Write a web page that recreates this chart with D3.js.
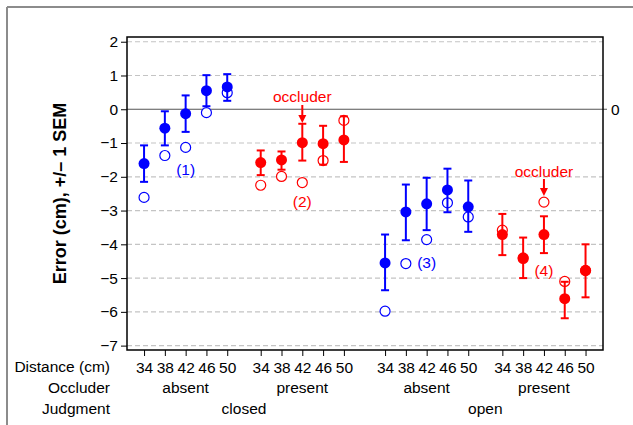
<!DOCTYPE html>
<html>
<head>
<meta charset="utf-8">
<script src="https://cdn.jsdelivr.net/npm/d3@7"></script>
<style>
  html, body { margin: 0; padding: 0; background: #fff; }
  svg { display: block; }
  text { font-family: "Liberation Sans", Arial, sans-serif; }
</style>
</head>
<body>
<svg id="chart" width="633" height="425"></svg>
<script>
// ---------------- data ----------------
const distances = [34, 38, 42, 46, 50];
const occluderLabels = ["absent", "present", "absent", "present"];
const judgmentLabels = ["closed", "open"];
const groupColors = ["#0000ff", "#ff0000", "#0000ff", "#ff0000"];
const groupTags = ["(1)", "(2)", "(3)", "(4)"];
const yTicks = [2, 1, 0, -1, -2, -3, -4, -5, -6, -7];

// filled circles: mean error
const meanValues = [
  [-1.61, -0.56, -0.13, 0.55, 0.66],
  [-1.58, -1.50, -0.99, -1.02, -0.91],
  [-4.55, -3.04, -2.80, -2.39, -2.89],
  [-3.71, -4.40, -3.71, -5.61, -4.77]
];
// error bar ends (+/- 1 SEM)
const semUpper = [
  [-1.07, -0.06, 0.41, 1.01, 1.04],
  [-1.22, -1.25, -0.43, -0.49, -0.21],
  [-3.71, -2.23, -2.03, -1.76, -2.11],
  [-3.10, -3.80, -3.17, -5.11, -4.00]
];
const semLower = [
  [-2.15, -1.07, -0.67, 0.09, 0.25],
  [-1.95, -1.79, -1.52, -1.64, -1.56],
  [-5.36, -3.88, -3.58, -3.05, -3.63],
  [-4.32, -5.00, -4.26, -6.19, -5.57]
];
// open circles
const openValues = [
  [-2.61, -1.37, -1.13, -0.10, 0.49],
  [-2.25, -1.99, -2.17, -1.52, -0.33],
  [-5.98, -4.57, -3.86, -2.77, -3.19],
  [-3.58, -4.42, -2.75, -5.10, -4.78]
];
// annotation label values
const tagValues = [-1.79, -2.72, -4.54, -4.77];

// ---------------- layout ----------------
const svg = d3.select("#chart");
const plot = { left: 127, right: 603, top: 37, bottom: 350 };
const groupStart = [0, 5.61, 11.59, 17.23];
const slot = (g, i) => groupStart[g] + i;

const x = d3.scaleLinear().domain([-0.82, 22.07]).range([plot.left, plot.right]);
const y = d3.scaleLinear().domain([-7.13, 2.14]).range([plot.bottom, plot.top]);

const fontSize = 15.5;

// outer frame
svg.append("line").attr("x1", 7).attr("y1", 7).attr("x2", 633).attr("y2", 7)
  .attr("stroke", "#8c8c8c").attr("stroke-width", 2);
svg.append("line").attr("x1", 7).attr("y1", 7).attr("x2", 7).attr("y2", 425)
  .attr("stroke", "#8c8c8c").attr("stroke-width", 2);

// gridlines
svg.append("g").selectAll("line").data(yTicks.filter(d => d !== 0)).join("line")
  .attr("x1", plot.left).attr("x2", plot.right)
  .attr("y1", d => y(d)).attr("y2", d => y(d))
  .attr("stroke", "#c4c4c4").attr("stroke-width", 1.2)
  .attr("stroke-dasharray", "5,3");

// zero line
svg.append("line").attr("x1", plot.left).attr("x2", plot.right + 4)
  .attr("y1", y(0)).attr("y2", y(0))
  .attr("stroke", "#555").attr("stroke-width", 1.2);
svg.append("text").attr("x", plot.right + 8).attr("y", y(0))
  .attr("dy", "0.35em").attr("font-size", fontSize).text("0");

// y axis
const yAxis = d3.axisLeft(y).tickValues(yTicks).tickSize(6).tickPadding(3)
  .tickFormat(d3.format("d"));
const yg = svg.append("g").attr("transform", `translate(${plot.left},0)`).call(yAxis);
yg.select(".domain").remove();
yg.selectAll("text").attr("font-size", fontSize).attr("font-family", "Liberation Sans, Arial, sans-serif").attr("fill", "#000");
yg.selectAll("line").attr("stroke", "#000");

// x axis ticks (one axis per group)
for (let g = 0; g < 4; g++) {
  const xAxis = d3.axisBottom(x)
    .tickValues(distances.map((d, i) => slot(g, i)))
    .tickFormat((d, i) => distances[i])
    .tickSize(6).tickPadding(6);
  const xg = svg.append("g").attr("transform", `translate(0,${plot.bottom})`).call(xAxis);
  xg.select(".domain").remove();
  xg.selectAll("text").attr("font-size", fontSize).attr("font-family", "Liberation Sans, Arial, sans-serif").attr("fill", "#000");
  xg.selectAll("line").attr("stroke", "#000");
}

// plot border
svg.append("rect").attr("x", plot.left).attr("y", plot.top)
  .attr("width", plot.right - plot.left).attr("height", plot.bottom - plot.top)
  .attr("fill", "none").attr("stroke", "#000").attr("stroke-width", 1.5);

// row labels
const rowY = [372, 393, 414];
["Distance (cm)", "Occluder", "Judgment"].forEach((t, k) => {
  svg.append("text").attr("x", 110).attr("y", rowY[k]).attr("text-anchor", "end")
    .attr("font-size", fontSize).text(t);
});
occluderLabels.forEach((t, g) => {
  svg.append("text").attr("x", x(slot(g, 2))).attr("y", rowY[1])
    .attr("text-anchor", "middle").attr("font-size", fontSize).text(t);
});
judgmentLabels.forEach((t, j) => {
  const cx = (x(slot(2 * j, 0)) + x(slot(2 * j + 1, 4))) / 2;
  svg.append("text").attr("x", cx).attr("y", rowY[2])
    .attr("text-anchor", "middle").attr("font-size", fontSize).text(t);
});

// y title
svg.append("text")
  .attr("transform", `translate(66,${(plot.top + plot.bottom) / 2 + 0}) rotate(-90)`)
  .attr("text-anchor", "middle").attr("font-size", 18).attr("font-weight", "bold")
  .text("Error (cm), +/\u2013 1 SEM");

// data marks
const capW = 4;
for (let g = 0; g < 4; g++) {
  const col = groupColors[g];
  const gg = svg.append("g");
  distances.forEach((d, i) => {
    const cx = x(slot(g, i));
    // open circle
    gg.append("circle").attr("cx", cx).attr("cy", y(openValues[g][i])).attr("r", 5)
      .attr("fill", "#fff").attr("stroke", col).attr("stroke-width", 1.2);
  });
  distances.forEach((d, i) => {
    const cx = x(slot(g, i));
    const y1 = y(semUpper[g][i]), y2 = y(semLower[g][i]);
    gg.append("line").attr("x1", cx).attr("x2", cx).attr("y1", y1).attr("y2", y2)
      .attr("stroke", col).attr("stroke-width", 2);
    [y1, y2].forEach(yy => gg.append("line").attr("x1", cx - capW).attr("x2", cx + capW)
      .attr("y1", yy).attr("y2", yy).attr("stroke", col).attr("stroke-width", 2));
    gg.append("circle").attr("cx", cx).attr("cy", y(meanValues[g][i])).attr("r", 5.5)
      .attr("fill", col);
  });
  // tag label
  svg.append("text").attr("x", x(slot(g, 2))).attr("y", y(tagValues[g]))
    .attr("dy", "0.35em").attr("text-anchor", "middle")
    .attr("font-size", fontSize).attr("fill", col).text(groupTags[g]);
}

// occluder annotations
const occluderMarks = [{ g: 1, i: 2, textY: 102, y0: 105, tip: 123 },
                       { g: 3, i: 2, textY: 177, y0: 179, tip: 196 }];
occluderMarks.forEach(m => {
  const cx = x(slot(m.g, m.i));
  svg.append("text").attr("x", cx).attr("y", m.textY).attr("text-anchor", "middle")
    .attr("font-size", fontSize).attr("fill", "#ff0000").text("occluder");
  svg.append("line").attr("x1", cx).attr("x2", cx).attr("y1", m.y0).attr("y2", m.tip - 6)
    .attr("stroke", "#ff0000").attr("stroke-width", 2);
  svg.append("path")
    .attr("d", `M${cx - 4},${m.tip - 8} L${cx + 4},${m.tip - 8} L${cx},${m.tip} Z`)
    .attr("fill", "#ff0000");
});
</script>
</body>
</html>
